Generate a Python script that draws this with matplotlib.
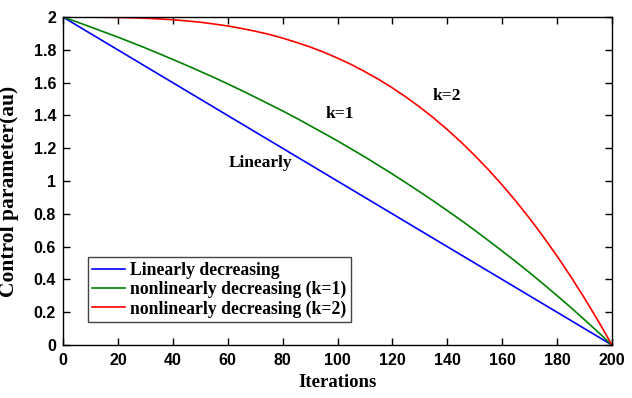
import numpy as np
import matplotlib
matplotlib.use("Agg")
from matplotlib import pyplot as plt

# control parameter over the run (values every 5 iterations)
iters = list(range(0, 201, 5))
lin_iters = [0, 200]
lin_vals = [2.0, 0.0]
k1_vals = [2.000, 1.971, 1.940, 1.909, 1.878, 1.845, 1.812, 1.777, 1.742, 1.706,
           1.669, 1.632, 1.593, 1.553, 1.512, 1.470, 1.428, 1.384, 1.338, 1.292,
           1.245, 1.196, 1.147, 1.095, 1.043, 0.989, 0.934, 0.878, 0.820, 0.761,
           0.700, 0.637, 0.573, 0.508, 0.441, 0.372, 0.301, 0.229, 0.154, 0.078,
           0.000]
k2_vals = [2.000, 2.000, 2.000, 1.999, 1.998, 1.996, 1.993, 1.989, 1.984, 1.977,
           1.969, 1.958, 1.946, 1.931, 1.914, 1.895, 1.872, 1.846, 1.818, 1.786,
           1.750, 1.711, 1.667, 1.620, 1.568, 1.512, 1.451, 1.385, 1.314, 1.238,
           1.156, 1.069, 0.976, 0.877, 0.772, 0.660, 0.542, 0.417, 0.285, 0.146,
           0.000]

fig = plt.figure(figsize=(6.32, 3.98), dpi=100)
ax = fig.add_axes([0.0997, 0.133, 0.8687, 0.824])

ax.plot(lin_iters, lin_vals, color='blue', lw=1.2, label='Linearly decreasing')
ax.plot(iters, k1_vals, color='green', lw=1.2, label='nonlinearly decreasing (k=1)')
ax.plot(iters, k2_vals, color='red', lw=1.2, label='nonlinearly decreasing (k=2)')

ax.set_xlim(0, 200)
ax.set_ylim(0, 2)
ax.set_xticks(np.arange(0, 201, 20))
ax.set_yticks(np.arange(0, 2.01, 0.2))
ax.set_yticklabels(['0', '0.2', '0.4', '0.6', '0.8', '1', '1.2', '1.4', '1.6', '1.8', '2'])
ax.tick_params(direction='in', top=True, right=True, length=5, width=1)
ax.tick_params(axis='x', pad=6)
ax.tick_params(axis='y', pad=5)
for lab in ax.get_xticklabels() + ax.get_yticklabels():
    lab.set_family('Liberation Sans')
    lab.set_weight('bold')
    lab.set_fontsize(11.5)
for s in ax.spines.values():
    s.set_linewidth(1.0)

serif = {'family': 'Liberation Serif', 'weight': 'bold'}
ax.set_xlabel('Iterations', fontsize=13.5, labelpad=4, **serif)
ax.set_ylabel('Control parameter(au)', fontsize=15.5, labelpad=4, **serif)
ax.yaxis.set_label_coords(-0.081, 0.47)

ax.text(71.8, 1.11, 'Linearly', ha='center', va='center', fontsize=12.5, **serif)
ax.text(100.9, 1.41, 'k=1', ha='center', va='center', fontsize=12.5, **serif)
ax.text(139.9, 1.52, 'k=2', ha='center', va='center', fontsize=12.5, **serif)

leg = ax.legend(loc='lower left', bbox_to_anchor=(0.045, 0.07), fancybox=False,
                edgecolor='#444444', framealpha=1, borderpad=0.25, labelspacing=0.12,
                handlelength=1.85, handletextpad=0.3, borderaxespad=0,
                prop={'family': 'Liberation Serif', 'weight': 'bold', 'size': 12.7})
leg.get_frame().set_linewidth(1.0)

fig.savefig('out.png', dpi=100)
